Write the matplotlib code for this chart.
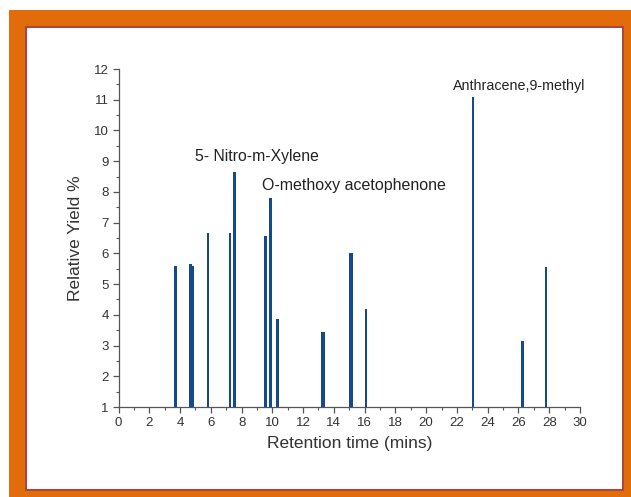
import matplotlib
matplotlib.use("Agg")
import matplotlib.pyplot as plt
from matplotlib.patches import Rectangle
from matplotlib.ticker import MultipleLocator

plt.rcParams['font.family'] = ['Liberation Sans', 'DejaVu Sans']

# Data: retention time (mins) and relative yield (%)
retention = [3.7, 4.68, 4.8, 5.82, 7.25, 7.55, 9.55, 9.87, 10.32,
             13.25, 13.35, 15.05, 15.15, 16.1, 23.05, 26.25, 27.8]
yield_pct = [5.6, 5.65, 5.6, 6.65, 6.65, 8.65, 6.55, 7.8, 3.87,
             3.45, 3.45, 6.0, 6.0, 4.2, 11.1, 3.15, 5.55]

annot_labels = ["5- Nitro-m-Xylene", "O-methoxy acetophenone", "Anthracene,9-methyl"]
annot_x = [5.0, 9.3, 21.75]
annot_y = [9.15, 8.2, 11.45]
annot_size = [11.3, 11.5, 10.3]

W, H = 631, 497
fig = plt.figure(figsize=(W / 100, H / 100), dpi=100)
fig.patch.set_facecolor('white')

# Orange frame and inner white panel
fig.patches.append(Rectangle((9 / W, 0), (W - 9) / W, (H - 10) / H,
                             transform=fig.transFigure, facecolor='#e36c0a',
                             edgecolor='none', zorder=0))
fig.patches.append(Rectangle((26 / W, 1 - 490 / H), (623 - 26) / W, (490 - 27) / H,
                             transform=fig.transFigure, facecolor='white',
                             edgecolor='#a8483e', linewidth=1.5, zorder=1))

ax = fig.add_axes([118.5 / W, 1 - 407 / H, (580 - 118.5) / W, (407 - 69) / H])
ax.set_facecolor('none')
ax.set_zorder(2)

heights = [v - 1 for v in yield_pct]
ax.bar(retention, heights, bottom=1, width=0.17, color='#134a8e', edgecolor='none')

ax.set_xlim(0, 30)
ax.set_ylim(1, 12)
ax.xaxis.set_major_locator(MultipleLocator(2))
ax.xaxis.set_minor_locator(MultipleLocator(1))
ax.yaxis.set_major_locator(MultipleLocator(1))
ax.yaxis.set_minor_locator(MultipleLocator(0.5))

for s in ['top', 'right']:
    ax.spines[s].set_visible(False)
for s in ['left', 'bottom']:
    ax.spines[s].set_color('#555555')
    ax.spines[s].set_linewidth(0.9)

ax.tick_params(axis='both', which='major', direction='out', length=4, width=0.9,
               color='#555555', labelsize=9.5, labelcolor='#333333', pad=3)
ax.tick_params(axis='both', which='minor', direction='out', length=2.5, width=0.8,
               color='#555555')

ax.set_xlabel('Retention time (mins)', fontsize=12.5, color='#333333', labelpad=5)
ax.set_ylabel('Relative Yield %', fontsize=12.5, color='#333333', labelpad=8)

for lab, x, y, fs in zip(annot_labels, annot_x, annot_y, annot_size):
    ax.text(x, y, lab, fontsize=fs, color='#222222', ha='left', va='center')

fig.savefig('out.png', dpi=100)
